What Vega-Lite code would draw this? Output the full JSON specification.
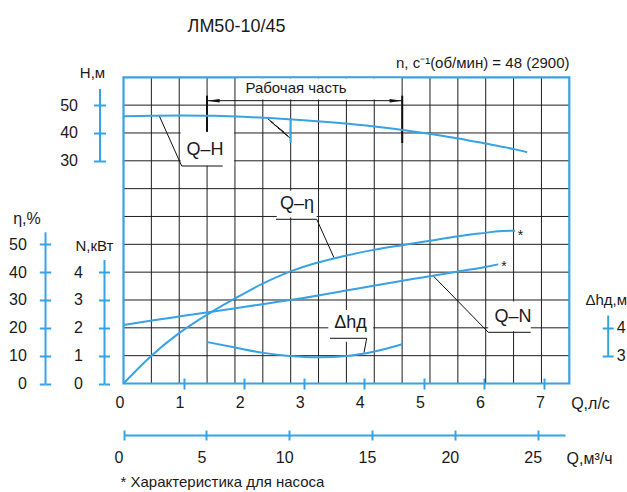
{
  "$schema": "https://vega.github.io/schema/vega-lite/v6.json",
  "width": 627,
  "height": 492,
  "autosize": "none",
  "padding": 0,
  "background": "white",
  "config": {
    "view": {"stroke": null},
    "text": {"font": "Liberation Sans, Arial, sans-serif", "color": "#1a1a1a"},
    "axis": {
      "labelFont": "Liberation Sans, Arial, sans-serif",
      "titleFont": "Liberation Sans, Arial, sans-serif",
      "labelFontSize": 16,
      "titleFontSize": 16,
      "titleFontWeight": "normal",
      "labelColor": "#1a1a1a",
      "titleColor": "#1a1a1a",
      "domainColor": "#37a2e4",
      "domainWidth": 2,
      "tickColor": "#37a2e4",
      "tickWidth": 2,
      "grid": false,
      "titleAngle": 0,
      "titleAlign": "center",
      "titleBaseline": "middle",
      "labelFlush": false,
      "labelOverlap": false,
      "labelBound": false
    }
  },
  "datasets": {
    "grid_cols": [{"i":1},{"i":2},{"i":3},{"i":4},{"i":5},{"i":6},{"i":7},{"i":8},{"i":9},{"i":10},{"i":11},{"i":12},{"i":13},{"i":14},{"i":15}],
    "grid_rows": [{"j":1},{"j":2},{"j":3},{"j":4},{"j":5},{"j":6},{"j":7},{"j":8},{"j":9},{"j":10}],
    "curve_labels": [
      {"label":"Q–H","gx":2.925,"gy":8.385,"bx1":2.05,"bx2":3.97,"by1":7.82,"by2":9.04},
      {"label":"Q–η","gx":6.227,"gy":6.448,"bx1":5.5,"bx2":6.93,"by1":5.96,"by2":6.92},
      {"label":"Q–N","gx":13.98,"gy":2.378,"bx1":13.09,"bx2":14.62,"by1":1.88,"by2":2.95},
      {"label":"Δhд","gx":8.147,"gy":2.184,"bx1":7.35,"bx2":8.96,"by1":1.5,"by2":2.64}
    ],
    "leaders": [
      {"x1":1.285,"y1":9.61,"x2":2.089,"y2":7.813},
      {"x1":2.089,"y1":7.813,"x2":3.56,"y2":7.813},
      {"x1":5.473,"y1":5.899,"x2":6.934,"y2":5.899},
      {"x1":6.934,"y1":5.899,"x2":7.555,"y2":4.519},
      {"x1":11.119,"y1":3.862,"x2":13.093,"y2":1.839},
      {"x1":13.093,"y1":1.839,"x2":14.614,"y2":1.839},
      {"x1":7.411,"y1":1.624,"x2":8.729,"y2":1.624},
      {"x1":8.729,"y1":1.624,"x2":8.632,"y2":1.106}
    ],
    "head_curve": [
      {"q":0,"h":46.0},{"q":0.5,"h":46.2},{"q":1.0,"h":46.3},{"q":1.5,"h":46.15},{"q":2.0,"h":45.8},
      {"q":2.5,"h":45.3},{"q":3.0,"h":44.6},{"q":3.5,"h":43.75},{"q":4.0,"h":42.75},{"q":4.5,"h":41.5},
      {"q":5.0,"h":40.0},{"q":5.5,"h":38.3},{"q":6.0,"h":36.3},{"q":6.5,"h":34.2},{"q":6.72,"h":33.1}
    ],
    "eta_curve": [
      {"q":0,"eta":0},{"q":0.46,"eta":9.9},{"q":0.92,"eta":18.0},{"q":1.44,"eta":25.4},{"q":1.86,"eta":30.6},
      {"q":2.3,"eta":35.7},{"q":2.77,"eta":40.2},{"q":3.19,"eta":43.2},{"q":3.52,"eta":45.0},{"q":4.16,"eta":48.0},
      {"q":4.63,"eta":49.7},{"q":5.1,"eta":51.3},{"q":5.57,"eta":52.9},{"q":6.05,"eta":54.2},{"q":6.24,"eta":54.7},{"q":6.52,"eta":54.9}
    ],
    "power_curve": [
      {"q":0,"n":2.1},{"q":0.5,"n":2.27},{"q":1.0,"n":2.43},{"q":1.5,"n":2.59},{"q":2.0,"n":2.75},
      {"q":2.5,"n":2.91},{"q":3.0,"n":3.07},{"q":3.5,"n":3.26},{"q":4.0,"n":3.45},{"q":4.5,"n":3.64},
      {"q":5.0,"n":3.82},{"q":5.5,"n":4.0},{"q":6.0,"n":4.18},{"q":6.24,"n":4.28}
    ],
    "npsh_curve": [
      {"q":1.39,"dh":3.49},{"q":1.86,"dh":3.29},{"q":2.33,"dh":3.1},{"q":2.77,"dh":2.99},
      {"q":3.24,"dh":2.94},{"q":3.72,"dh":2.99},{"q":4.16,"dh":3.14},{"q":4.64,"dh":3.41}
    ],
    "working_range": [{"q_from":1.39,"q_to":4.64,"h":51.6}],
    "range_edges": [{"q":1.39,"h_top":53.4,"h_bottom":40.4},{"q":4.64,"h_top":53.4,"h_bottom":36.4}],
    "range_label": [{"text":"Рабочая часть","q":2.872,"h":56.1,"q1":1.907,"q2":4.62,"h1":52.0,"h2":59.6}],
    "hatch": [
      {"q":2.406,"h":45.0,"q2":2.505,"h2":43.4},
      {"q":2.447,"h":44.1,"q2":2.589,"h2":41.8},
      {"q":2.505,"h":43.05,"q2":2.672,"h2":40.35},
      {"q":2.572,"h":41.8,"q2":2.739,"h2":38.9},
      {"q":2.639,"h":40.5,"q2":2.772,"h2":38.2}
    ],
    "hatch_post": [{"q":2.78,"h":45.0,"h2":36.5}],
    "eta_star": [{"q":6.61,"eta":54.3,"t":"*"}],
    "power_star": [{"q":6.334,"n":4.317,"t":"*"}],
    "ticks_head": [{"v":30},{"v":40},{"v":50}],
    "ticks_eta": [{"v":0},{"v":10},{"v":20},{"v":30},{"v":40},{"v":50}],
    "ticks_power": [{"v":0},{"v":1},{"v":2},{"v":3},{"v":4}],
    "ticks_npsh": [{"v":3},{"v":4}],
    "ticks_flow_ls": [{"v":0},{"v":1},{"v":2},{"v":3},{"v":4},{"v":5},{"v":6},{"v":7}],
    "ticks_flow_m3h": [{"v":0},{"v":5},{"v":10},{"v":15},{"v":20},{"v":25}]
  },
  "layer": [
    {
      "layer": [
        {
          "data": {"name": "grid_cols"},
          "mark": {"type": "rule", "color": "#1f1f1f", "strokeWidth": 1},
          "encoding": {
            "x": {"field": "i", "type": "quantitative", "scale": {"domain": [0, 16], "range": [123.5, 569.3], "nice": false, "zero": false}, "axis": null},
            "y": {"datum": 0, "type": "quantitative", "scale": {"domain": [0, 11], "range": [383.5, 77.3], "nice": false, "zero": false}, "axis": null},
            "y2": {"datum": 11}
          }
        },
        {
          "data": {"name": "grid_rows"},
          "mark": {"type": "rule", "color": "#1f1f1f", "strokeWidth": 1},
          "encoding": {
            "y": {"field": "j", "type": "quantitative", "scale": {"domain": [0, 11], "range": [383.5, 77.3], "nice": false, "zero": false}, "axis": null},
            "x": {"datum": 0, "type": "quantitative", "scale": {"domain": [0, 16], "range": [123.5, 569.3], "nice": false, "zero": false}, "axis": null},
            "x2": {"datum": 16}
          }
        },
        {
          "data": {"name": "curve_labels"},
          "mark": {"type": "rect", "fill": "white", "strokeWidth": 0},
          "encoding": {
            "x": {"field": "bx1", "type": "quantitative", "scale": {"domain": [0, 16], "range": [123.5, 569.3], "nice": false, "zero": false}, "axis": null},
            "x2": {"field": "bx2"},
            "y": {"field": "by1", "type": "quantitative", "scale": {"domain": [0, 11], "range": [383.5, 77.3], "nice": false, "zero": false}, "axis": null},
            "y2": {"field": "by2"}
          }
        },
        {
          "data": {"name": "leaders"},
          "mark": {"type": "rule", "color": "#111", "strokeWidth": 1},
          "encoding": {
            "x": {"field": "x1", "type": "quantitative", "scale": {"domain": [0, 16], "range": [123.5, 569.3], "nice": false, "zero": false}, "axis": null},
            "x2": {"field": "x2"},
            "y": {"field": "y1", "type": "quantitative", "scale": {"domain": [0, 11], "range": [383.5, 77.3], "nice": false, "zero": false}, "axis": null},
            "y2": {"field": "y2"}
          }
        },
        {
          "data": {"name": "curve_labels"},
          "mark": {"type": "text", "fontSize": 18, "align": "center", "baseline": "middle"},
          "encoding": {
            "x": {"field": "gx", "type": "quantitative", "scale": {"domain": [0, 16], "range": [123.5, 569.3], "nice": false, "zero": false}, "axis": null},
            "y": {"field": "gy", "type": "quantitative", "scale": {"domain": [0, 11], "range": [383.5, 77.3], "nice": false, "zero": false}, "axis": null},
            "text": {"field": "label"}
          }
        },
        {
          "data": {"values": [{}]},
          "mark": {"type": "rect", "fill": "transparent", "stroke": "#37a2e4", "strokeWidth": 2.2},
          "encoding": {
            "x": {"datum": 0, "type": "quantitative", "scale": {"domain": [0, 16], "range": [123.5, 569.3], "nice": false, "zero": false}, "axis": null},
            "x2": {"datum": 16},
            "y": {"datum": 0, "type": "quantitative", "scale": {"domain": [0, 11], "range": [383.5, 77.3], "nice": false, "zero": false}, "axis": null},
            "y2": {"datum": 11}
          }
        }
      ]
    },
    {
      "layer": [
        {
          "data": {"name": "range_label"},
          "mark": {"type": "rect", "fill": "white", "strokeWidth": 0},
          "encoding": {
            "x": {"field": "q1", "type": "quantitative", "scale": {"domain": [0, 7], "range": [123.5, 544], "nice": false, "zero": false}, "axis": null},
            "x2": {"field": "q2"},
            "y": {"field": "h1", "type": "quantitative", "scale": {"domain": [0, 60], "range": [244.3, 77.3], "nice": false, "zero": false}, "axis": null},
            "y2": {"field": "h2"}
          }
        },
        {
          "data": {"name": "range_label"},
          "mark": {"type": "text", "fontSize": 15, "align": "center", "baseline": "middle"},
          "encoding": {
            "x": {"field": "q", "type": "quantitative", "scale": {"domain": [0, 7], "range": [123.5, 544], "nice": false, "zero": false}, "axis": null},
            "y": {"field": "h", "type": "quantitative", "scale": {"domain": [0, 60], "range": [244.3, 77.3], "nice": false, "zero": false}, "axis": null},
            "text": {"field": "text"}
          }
        },
        {
          "data": {"name": "working_range"},
          "mark": {"type": "rule", "color": "#111", "strokeWidth": 1},
          "encoding": {
            "x": {"field": "q_from", "type": "quantitative", "scale": {"domain": [0, 7], "range": [123.5, 544], "nice": false, "zero": false}, "axis": null},
            "x2": {"field": "q_to"},
            "y": {"field": "h", "type": "quantitative", "scale": {"domain": [0, 60], "range": [244.3, 77.3], "nice": false, "zero": false}, "axis": null}
          }
        },
        {
          "data": {"name": "working_range"},
          "mark": {"type": "point", "shape": "M0,0L2,-0.27L2,0.27Z", "size": 161, "filled": true, "color": "#111", "opacity": 1, "strokeWidth": 0},
          "encoding": {
            "x": {"field": "q_from", "type": "quantitative", "scale": {"domain": [0, 7], "range": [123.5, 544], "nice": false, "zero": false}, "axis": null},
            "y": {"field": "h", "type": "quantitative", "scale": {"domain": [0, 60], "range": [244.3, 77.3], "nice": false, "zero": false}, "axis": null}
          }
        },
        {
          "data": {"name": "working_range"},
          "mark": {"type": "point", "shape": "M0,0L-2,-0.27L-2,0.27Z", "size": 161, "filled": true, "color": "#111", "opacity": 1, "strokeWidth": 0},
          "encoding": {
            "x": {"field": "q_to", "type": "quantitative", "scale": {"domain": [0, 7], "range": [123.5, 544], "nice": false, "zero": false}, "axis": null},
            "y": {"field": "h", "type": "quantitative", "scale": {"domain": [0, 60], "range": [244.3, 77.3], "nice": false, "zero": false}, "axis": null}
          }
        },
        {
          "data": {"name": "range_edges"},
          "mark": {"type": "rule", "color": "#111", "strokeWidth": 2},
          "encoding": {
            "x": {"field": "q", "type": "quantitative", "scale": {"domain": [0, 7], "range": [123.5, 544], "nice": false, "zero": false}, "axis": null},
            "y": {"field": "h_top", "type": "quantitative", "scale": {"domain": [0, 60], "range": [244.3, 77.3], "nice": false, "zero": false}, "axis": null},
            "y2": {"field": "h_bottom"}
          }
        },
        {
          "data": {"name": "hatch"},
          "mark": {"type": "rule", "color": "#111", "strokeWidth": 1},
          "encoding": {
            "x": {"field": "q", "type": "quantitative", "scale": {"domain": [0, 7], "range": [123.5, 544], "nice": false, "zero": false}, "axis": null},
            "x2": {"field": "q2"},
            "y": {"field": "h", "type": "quantitative", "scale": {"domain": [0, 60], "range": [244.3, 77.3], "nice": false, "zero": false}, "axis": null},
            "y2": {"field": "h2"}
          }
        },
        {
          "data": {"name": "hatch_post"},
          "mark": {"type": "rule", "color": "#37a2e4", "strokeWidth": 2},
          "encoding": {
            "x": {"field": "q", "type": "quantitative", "scale": {"domain": [0, 7], "range": [123.5, 544], "nice": false, "zero": false}, "axis": null},
            "y": {"field": "h", "type": "quantitative", "scale": {"domain": [0, 60], "range": [244.3, 77.3], "nice": false, "zero": false}, "axis": null},
            "y2": {"field": "h2"}
          }
        },
        {
          "data": {"name": "head_curve"},
          "mark": {"type": "line", "color": "#37a2e4", "strokeWidth": 2, "interpolate": "monotone"},
          "encoding": {
            "x": {"field": "q", "type": "quantitative", "scale": {"domain": [0, 7], "range": [123.5, 544], "nice": false, "zero": false}, "axis": null},
            "y": {"field": "h", "type": "quantitative", "scale": {"domain": [0, 60], "range": [244.3, 77.3], "nice": false, "zero": false}, "axis": null}
          }
        }
      ]
    },
    {
      "layer": [
        {
          "data": {"name": "eta_curve"},
          "mark": {"type": "line", "color": "#37a2e4", "strokeWidth": 2, "interpolate": "monotone"},
          "encoding": {
            "x": {"field": "q", "type": "quantitative", "scale": {"domain": [0, 7], "range": [123.5, 544], "nice": false, "zero": false}, "axis": null},
            "y": {"field": "eta", "type": "quantitative", "scale": {"domain": [0, 110], "range": [383.5, 77.3], "nice": false, "zero": false}, "axis": null}
          }
        },
        {
          "data": {"name": "eta_star"},
          "mark": {"type": "text", "fontSize": 14, "align": "center", "baseline": "alphabetic", "dy": 8},
          "encoding": {
            "x": {"field": "q", "type": "quantitative", "scale": {"domain": [0, 7], "range": [123.5, 544], "nice": false, "zero": false}, "axis": null},
            "y": {"field": "eta", "type": "quantitative", "scale": {"domain": [0, 110], "range": [383.5, 77.3], "nice": false, "zero": false}, "axis": null},
            "text": {"field": "t"}
          }
        }
      ]
    },
    {
      "layer": [
        {
          "data": {"name": "power_curve"},
          "mark": {"type": "line", "color": "#37a2e4", "strokeWidth": 2, "interpolate": "monotone"},
          "encoding": {
            "x": {"field": "q", "type": "quantitative", "scale": {"domain": [0, 7], "range": [123.5, 544], "nice": false, "zero": false}, "axis": null},
            "y": {"field": "n", "type": "quantitative", "scale": {"domain": [0, 11], "range": [383.5, 77.3], "nice": false, "zero": false}, "axis": null}
          }
        },
        {
          "data": {"name": "power_star"},
          "mark": {"type": "text", "fontSize": 14, "align": "center", "baseline": "alphabetic", "dy": 8},
          "encoding": {
            "x": {"field": "q", "type": "quantitative", "scale": {"domain": [0, 7], "range": [123.5, 544], "nice": false, "zero": false}, "axis": null},
            "y": {"field": "n", "type": "quantitative", "scale": {"domain": [0, 11], "range": [383.5, 77.3], "nice": false, "zero": false}, "axis": null},
            "text": {"field": "t"}
          }
        }
      ]
    },
    {
      "data": {"name": "npsh_curve"},
      "mark": {"type": "line", "color": "#37a2e4", "strokeWidth": 2, "interpolate": "monotone"},
      "encoding": {
        "x": {"field": "q", "type": "quantitative", "scale": {"domain": [0, 7], "range": [123.5, 544], "nice": false, "zero": false}, "axis": null},
        "y": {"field": "dh", "type": "quantitative", "scale": {"domain": [2, 13], "range": [383.5, 77.3], "nice": false, "zero": false}, "axis": null}
      }
    },
    {
      "data": {"name": "ticks_head"},
      "mark": {"type": "point", "opacity": 0},
      "encoding": {
        "y": {"field": "v", "type": "quantitative", "scale": {"domain": [30, 56], "range": [160.8, 88.4], "nice": false, "zero": false},
          "axis": {"orient": "left", "offset": -99.5, "values": [30, 40, 50], "tickSize": 6, "labelPadding": 16, "title": "Н,м", "titleX": -7.5, "titleY": 72, "titleFontSize": 15}}
      }
    },
    {
      "data": {"name": "ticks_head"},
      "mark": {"type": "point", "opacity": 0},
      "encoding": {
        "y": {"field": "v", "type": "quantitative", "scale": {"domain": [30, 56], "range": [160.8, 88.4], "nice": false, "zero": false},
          "axis": {"orient": "right", "offset": -527.5, "values": [30, 40, 50], "tickSize": 6, "labels": false, "domain": false, "title": null}}
      }
    },
    {
      "data": {"name": "ticks_eta"},
      "mark": {"type": "point", "opacity": 0},
      "encoding": {
        "y": {"field": "v", "type": "quantitative", "scale": {"domain": [0, 54.5], "range": [383.5, 231.8], "nice": false, "zero": false},
          "axis": {"orient": "left", "offset": -45, "values": [0, 10, 20, 30, 40, 50], "tickSize": 5.7, "labelPadding": 13, "title": "η,%", "titleX": -18.5, "titleY": 218}}
      }
    },
    {
      "data": {"name": "ticks_eta"},
      "mark": {"type": "point", "opacity": 0},
      "encoding": {
        "y": {"field": "v", "type": "quantitative", "scale": {"domain": [0, 54.5], "range": [383.5, 231.8], "nice": false, "zero": false},
          "axis": {"orient": "right", "offset": -582, "values": [0, 10, 20, 30, 40, 50], "tickSize": 5.7, "labels": false, "domain": false,
            "title": "ЛМ50-10/45", "titleX": 191, "titleY": 26, "titleFontSize": 18}}
      }
    },
    {
      "data": {"name": "ticks_power"},
      "mark": {"type": "point", "opacity": 0},
      "encoding": {
        "y": {"field": "v", "type": "quantitative", "scale": {"domain": [0, 4.45], "range": [383.5, 259.6], "nice": false, "zero": false},
          "axis": {"orient": "left", "offset": -104, "values": [0, 1, 2, 3, 4], "tickSize": 5.5, "labelPadding": 16, "title": "N,кВт", "titleX": -10, "titleY": 245, "titleFontSize": 15}}
      }
    },
    {
      "data": {"name": "ticks_power"},
      "mark": {"type": "point", "opacity": 0},
      "encoding": {
        "y": {"field": "v", "type": "quantitative", "scale": {"domain": [0, 4.45], "range": [383.5, 259.6], "nice": false, "zero": false},
          "axis": {"orient": "right", "offset": -523, "values": [0, 1, 2, 3, 4], "tickSize": 5.5, "labels": false, "domain": false,
            "title": "n, c⁻¹(об/мин) = 48 (2900)", "titleX": 465, "titleY": 62, "titleAlign": "right", "titleFontSize": 15}}
      }
    },
    {
      "data": {"name": "ticks_npsh"},
      "mark": {"type": "point", "opacity": 0},
      "encoding": {
        "y": {"field": "v", "type": "quantitative", "scale": {"domain": [3, 4.46], "range": [355.7, 315], "nice": false, "zero": false},
          "axis": {"orient": "right", "offset": -19.3, "values": [3, 4], "tickSize": 5.5, "labelPadding": 3, "title": "Δhд,м", "titleX": -2, "titleY": 299, "titleFontSize": 15}}
      }
    },
    {
      "data": {"name": "ticks_npsh"},
      "mark": {"type": "point", "opacity": 0},
      "encoding": {
        "y": {"field": "v", "type": "quantitative", "scale": {"domain": [3, 4.46], "range": [355.7, 315], "nice": false, "zero": false},
          "axis": {"orient": "left", "offset": -607.7, "values": [3, 4], "tickSize": 5.5, "labels": false, "domain": false, "title": null}}
      }
    },
    {
      "data": {"name": "ticks_flow_ls"},
      "mark": {"type": "point", "opacity": 0},
      "encoding": {
        "x": {"field": "v", "type": "quantitative", "scale": {"domain": [0, 7], "range": [123.5, 544], "nice": false, "zero": false},
          "axis": {"orient": "bottom", "offset": -114, "values": [0, 1, 2, 3, 4, 5, 6, 7], "tickSize": 11, "domain": false,
            "tickOpacity": {"condition": {"test": "datum.value === 0", "value": 0}, "value": 1},
            "labelPadding": 5, "labelOffset": -4, "title": "Q,л/с", "titleX": 590, "titleY": 25}}
      }
    },
    {
      "data": {"name": "ticks_flow_m3h"},
      "mark": {"type": "point", "opacity": 0},
      "encoding": {
        "x": {"field": "v", "type": "quantitative", "scale": {"domain": [0, 26.65], "range": [123.5, 565], "nice": false, "zero": false},
          "axis": {"orient": "bottom", "offset": -57, "values": [0, 5, 10, 15, 20, 25], "tickSize": 5, "labelPadding": 9, "labelOffset": -5,
            "title": "Q,м³/ч", "titleX": 589, "titleY": 23}}
      }
    },
    {
      "data": {"name": "ticks_flow_m3h"},
      "mark": {"type": "point", "opacity": 0},
      "encoding": {
        "x": {"field": "v", "type": "quantitative", "scale": {"domain": [0, 26.65], "range": [123.5, 565], "nice": false, "zero": false},
          "axis": {"orient": "top", "offset": -435, "values": [0, 5, 10, 15, 20, 25], "tickSize": 5, "labels": false, "domain": false,
            "title": "* Характеристика для насоса", "titleX": 120, "titleY": 46, "titleAlign": "left", "titleFontSize": 15}}
      }
    }
  ],
  "resolve": {
    "scale": {"x": "independent", "y": "independent"},
    "axis": {"x": "independent", "y": "independent"}
  }
}
